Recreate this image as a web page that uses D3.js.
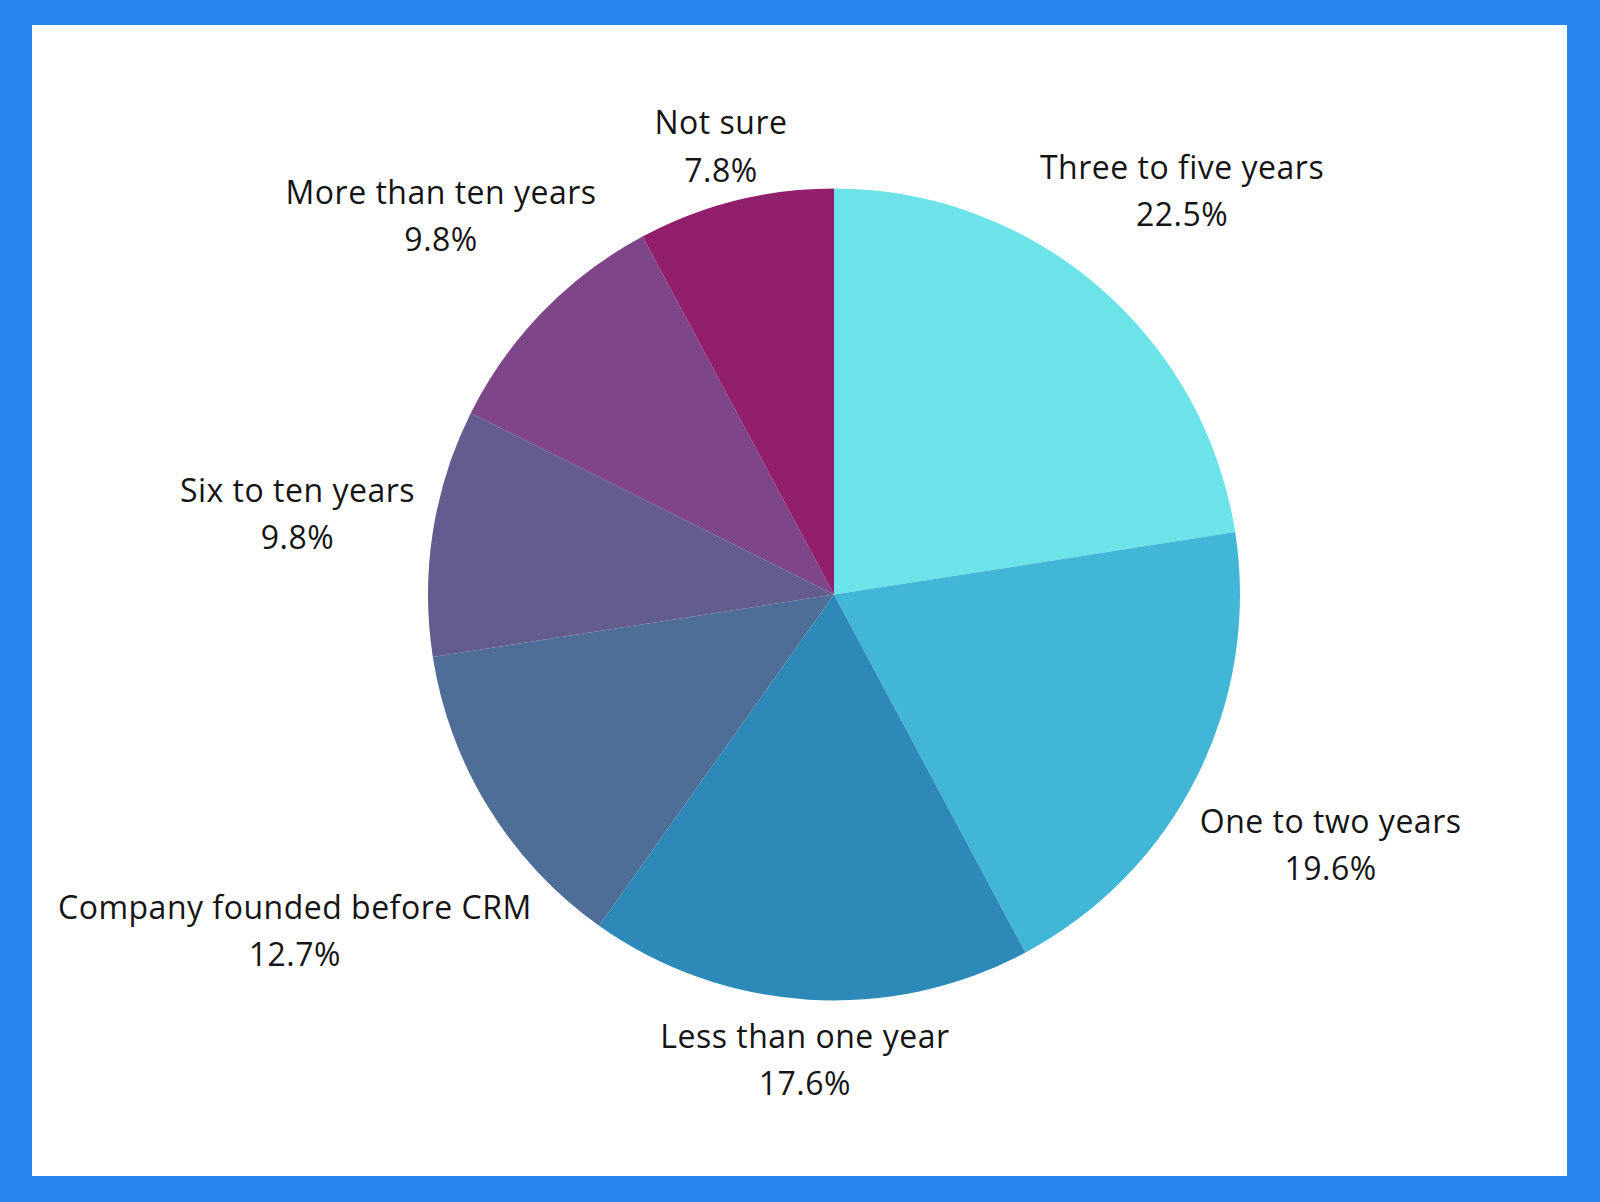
<!DOCTYPE html>
<html><head><meta charset="utf-8">
<script src="https://cdn.jsdelivr.net/npm/d3@7"></script>
<style>html,body{margin:0;padding:0;background:#2684EA;}svg{display:block;}</style>
</head><body>
<svg id="chart" width="1600" height="1202"></svg>
<script>
const categories = ["Three to five years","One to two years","Less than one year","Company founded before CRM","Six to ten years","More than ten years","Not sure"];
const values = [22.5, 19.6, 17.6, 12.7, 9.8, 9.8, 7.8];
const valueLabels = ["22.5%","19.6%","17.6%","12.7%","9.8%","9.8%","7.8%"];
const colors = ["#6BE3E8","#42B6D6","#2D8AB8","#4E6E98","#635C8E","#7E4688","#921F6C"];
// layout: distance of each label's centre from pie centre
const labelRadii = [535, 555, 463, 634, 543, 548, 465];

const W = 1600, H = 1202;
const svg = d3.select("#chart");
svg.append("rect").attr("x",0).attr("y",0).attr("width",W).attr("height",H).attr("fill","#2684EA");
svg.append("rect").attr("x",32).attr("y",25).attr("width",1535).attr("height",1151).attr("fill","#ffffff");

const cx = 834, cy = 594.5, R = 406;
const g = svg.append("g").attr("transform",`translate(${cx},${cy})`);
const pie = d3.pie().sort(null).value(d => d.v);
const data = categories.map((c,i)=>({c, v:values[i], lab:valueLabels[i], col:colors[i], lr:labelRadii[i]}));
const arcs = pie(data);
const arc = d3.arc().innerRadius(0).outerRadius(R);
g.selectAll("path.slice").data(arcs).join("path")
  .attr("class","slice").attr("d",arc).attr("fill",d=>d.data.col);

const labels = g.selectAll("text.lab").data(arcs).join("text")
  .attr("class","lab")
  .attr("text-anchor","middle")
  .attr("font-family","'Open Sans', sans-serif")
  .attr("font-size",32)
  .attr("letter-spacing","0.5px")
  .attr("fill","#151515")
  .attr("transform", d => {
    const a = (d.startAngle + d.endAngle)/2;
    const x = Math.sin(a)*d.data.lr, y = -Math.cos(a)*d.data.lr;
    return `translate(${x},${y})`;
  });
labels.append("tspan").attr("x",0).attr("dy","-0.28em").text(d=>d.data.c);
labels.append("tspan").attr("x",0).attr("dy","1.47em").text(d=>d.data.lab);
</script>
</body></html>
